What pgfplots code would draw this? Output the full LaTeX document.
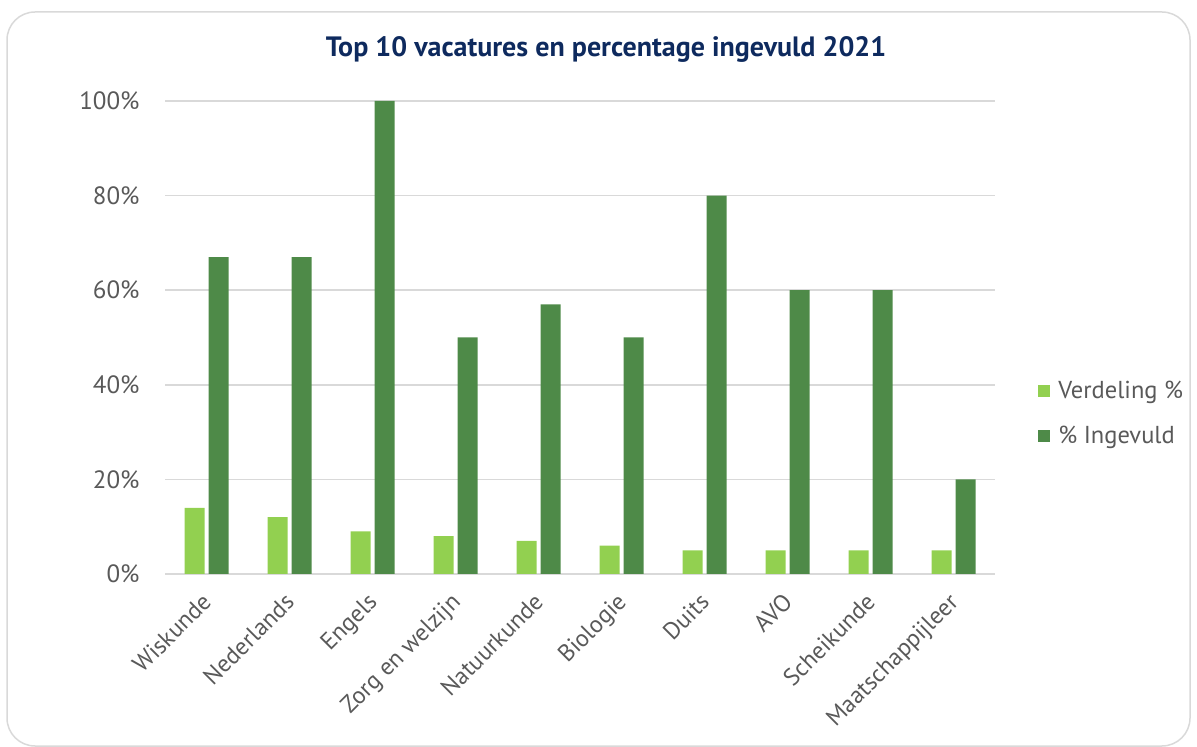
\documentclass[border=0pt]{standalone}
\usepackage{pgfplots}
\pgfplotsset{compat=1.18}
\usepackage{fontspec}
\setmainfont{PT Sans}
\definecolor{lgreen}{HTML}{92D050}
\definecolor{dgreen}{HTML}{4E8A48}
\definecolor{txtgray}{HTML}{595959}
\definecolor{gridgray}{HTML}{D9D9D9}
\definecolor{navy}{HTML}{0E2A5E}
\begin{document}
\begin{tikzpicture}
\useasboundingbox (0,0) rectangle (1197bp,747bp);
\draw[gridgray, line width=1.5bp, rounded corners=28bp] (7bp,1bp) rectangle (1190bp,735bp);
\node[font=\bfseries\fontsize{28bp}{32bp}\selectfont, text=navy] at (606bp,698bp) {Top 10 vacatures en percentage ingevuld 2021};
\begin{axis}[
  at={(165bp,173bp)}, anchor=south west,
  scale only axis, width=830bp, height=473bp,
  ybar=4bp, bar width=20bp,
  xmin=-0.5, xmax=9.5, ymin=0, ymax=100,
  xtick={0,...,9},
  xticklabels={Wiskunde,Nederlands,Engels,Zorg en welzijn,Natuurkunde,Biologie,Duits,AVO,Scheikunde,Maatschappijleer},
  x tick label style={xshift=-6bp, yshift=-16bp, rotate=45, anchor=north east, inner sep=1bp, font=\fontsize{24bp}{28bp}\selectfont},
  ytick={0,20,...,100},
  yticklabel={\pgfmathprintnumber{\tick}\%},
  /pgf/number format/assume math mode=true,
  tick label style={text=txtgray},
  y tick label style={xshift=-22bp, font=\fontsize{25bp}{29bp}\selectfont},
  major tick length=0pt,
  ymajorgrids, grid style={gridgray, line width=1.5bp},
  axis line style={draw=none},
  axis x line*=bottom, axis y line*=left,
  legend style={at={(1.052,0.34)}, anchor=west, draw=none, fill=none,
    font=\fontsize{24.5bp}{28bp}\selectfont, text=txtgray,
    row sep=22bp, inner sep=0pt,
    nodes={inner xsep=8bp}},
  legend cell align=left,
  legend image code/.code={\fill[#1] (0bp,-6bp) rectangle (12bp,6bp);},
]
\draw[gridgray, line width=1.5bp] (axis cs:-0.5,0) -- (axis cs:9.5,0);
\addplot[fill=lgreen, draw=none] coordinates {(0,14) (1,12) (2,9) (3,8) (4,7) (5,6) (6,5) (7,5) (8,5) (9,5)};
\addplot[fill=dgreen, draw=none] coordinates {(0,67) (1,67) (2,100) (3,50) (4,57) (5,50) (6,80) (7,60) (8,60) (9,20)};
\legend{Verdeling \%, \% Ingevuld}
\end{axis}
\end{tikzpicture}
\end{document}
